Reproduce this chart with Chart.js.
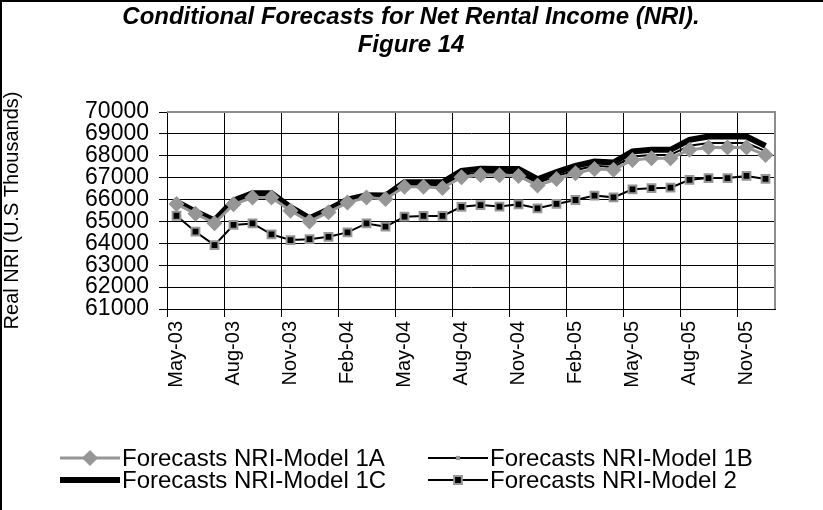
<!DOCTYPE html>
<html><head><meta charset="utf-8">
<script src="https://cdn.jsdelivr.net/npm/chart.js@4.4.1/dist/chart.umd.min.js"></script>
<style>
html,body{margin:0;padding:0;background:#fff;}
#wrap{width:823px;height:510px;}
</style></head>
<body><div id="wrap"><canvas id="c" width="823" height="510"></canvas></div>
<script>
const titleLines = ["Conditional Forecasts for Net Rental Income (NRI).", "Figure 14"];
const yAxisTitle = "Real NRI (U.S Thousands)";
const months = ["May-03","Jun-03","Jul-03","Aug-03","Sep-03","Oct-03","Nov-03","Dec-03",
  "Jan-04","Feb-04","Mar-04","Apr-04","May-04","Jun-04","Jul-04","Aug-04","Sep-04","Oct-04","Nov-04","Dec-04",
  "Jan-05","Feb-05","Mar-05","Apr-05","May-05","Jun-05","Jul-05","Aug-05","Sep-05","Oct-05","Nov-05","Dec-05"];
const seriesNames = ["Forecasts NRI-Model 1A","Forecasts NRI-Model 1B","Forecasts NRI-Model 1C","Forecasts NRI-Model 2"];
const model1A = [65800,65350,64920,65780,66090,66090,65490,65000,65420,65860,66090,66030,66590,66590,66530,67020,
  67120,67110,67080,66640,66940,67200,67400,67360,67810,67890,67890,68270,68380,68380,68380,68040];
const model1B = [65840,65390,64970,65850,66170,66170,65550,65060,65470,65910,66130,66090,66670,66670,66640,67140,
  67240,67230,67210,66760,67070,67340,67540,67490,67970,68040,68040,68460,68580,68580,68580,68210];
const model1C = [65900,65450,65050,65950,66290,66290,65650,65150,65550,66000,66200,66180,66790,66790,66790,67310,
  67410,67400,67400,66930,67250,67540,67740,67690,68200,68270,68270,68730,68880,68880,68880,68450];
const model2 = [65260,64530,63920,64840,64910,64410,64150,64190,64300,64500,64910,64760,65220,65250,65250,65670,
  65750,65680,65780,65600,65800,65980,66180,66100,66470,66520,66540,66900,66980,66980,67080,66940];
const yMin = 61000, yMax = 70000, yStep = 1000;

const FONT = "'Liberation Sans', Arial, sans-serif";
const GRAY = '#969696';

const decor = {
  id: 'decor',
  beforeDatasetsDraw(chart) {
    const {ctx, chartArea: a} = chart;
    ctx.save();
    ctx.strokeStyle = '#8c8c8c';
    ctx.lineWidth = 2;
    ctx.beginPath();
    ctx.moveTo(a.left, a.top);
    ctx.lineTo(a.right, a.top);
    ctx.lineTo(a.right, a.bottom);
    ctx.stroke();
    ctx.restore();
  },
  afterDraw(chart) {
    const ctx = chart.ctx;
    ctx.save();
    ctx.strokeStyle = '#000';
    ctx.lineWidth = 2;
    ctx.beginPath();
    ctx.moveTo(823, 1);
    ctx.lineTo(1, 1);
    ctx.lineTo(1, 510);
    ctx.stroke();
    ctx.fillStyle = '#000';
    ctx.textAlign = 'center';
    ctx.textBaseline = 'middle';
    ctx.font = "italic bold 24px " + FONT;
    ctx.fillText(titleLines[0], 411, 17);
    ctx.fillText(titleLines[1], 411, 45);
    const cols = [60, 428];
    const rows = [458, 480];
    const sampleW = 60;
    ctx.font = "24px " + FONT;
    ctx.textAlign = 'left';
    chart.data.datasets.forEach((ds, i) => {
      const x = cols[i % 2], y = rows[Math.floor(i / 2)];
      ctx.strokeStyle = ds.borderColor;
      ctx.lineWidth = ds.borderWidth;
      ctx.beginPath();
      ctx.moveTo(x, y);
      ctx.lineTo(x + sampleW, y);
      ctx.stroke();
      if (ds.pointRadius > 0) {
        ctx.fillStyle = ds.pointBackgroundColor;
        ctx.strokeStyle = ds.pointBorderColor;
        ctx.lineWidth = ds.pointBorderWidth;
        Chart.helpers.drawPoint(ctx, {pointStyle: ds.pointStyle, radius: ds.pointRadius, rotation: 0, borderWidth: ds.pointBorderWidth}, x + sampleW / 2, y);
      }
      ctx.fillStyle = '#000';
      ctx.fillText(ds.label, x + sampleW + 2, y + 1);
    });
    ctx.restore();
  }
};

new Chart(document.getElementById('c'), {
  type: 'line',
  data: {
    labels: months,
    datasets: [
      {label: seriesNames[0], data: model1A, borderColor: GRAY, borderWidth: 3, pointStyle: 'rectRot', pointRadius: 8,
       pointBackgroundColor: GRAY, pointBorderColor: GRAY, pointBorderWidth: 0, tension: 0},
      {label: seriesNames[1], data: model1B, borderColor: '#000', borderWidth: 2, pointStyle: 'rect', pointRadius: 3,
       pointBackgroundColor: GRAY, pointBorderColor: GRAY, pointBorderWidth: 0, tension: 0},
      {label: seriesNames[2], data: model1C, borderColor: '#000', borderWidth: 6, pointRadius: 0, tension: 0},
      {label: seriesNames[3], data: model2, borderColor: '#000', borderWidth: 2, pointStyle: 'rect', pointRadius: 5.5,
       pointBackgroundColor: '#000', pointBorderColor: GRAY, pointBorderWidth: 2, tension: 0}
    ]
  },
  options: {
    responsive: false,
    animation: false,
    devicePixelRatio: 1,
    layout: {padding: {top: 112, right: 48, left: 0, bottom: 0}},
    plugins: {legend: {display: false}, title: {display: false}, tooltip: {enabled: false}},
    scales: {
      x: {
        type: 'category', offset: true,
        grid: {offset: true, color: c => (c.index % 3 === 0 ? '#000' : 'rgba(0,0,0,0)'), lineWidth: 1, drawTicks: true, tickLength: 8},
        border: {color: '#000', width: 1},
        ticks: {autoSkip: false, maxRotation: 90, minRotation: 90, padding: 4, color: '#000',
                font: {family: FONT, size: 20}, callback: (v, i) => (i % 3 === 0 ? months[i] : '')},
        afterFit: s => { s.height = 201; }
      },
      y: {
        min: yMin, max: yMax,
        ticks: {stepSize: yStep, autoSkip: false, color: '#000', font: {family: FONT, size: 23}, padding: 10,
                callback: v => String(v)},
        grid: {color: '#000', lineWidth: 1, tickLength: 8},
        border: {color: '#000', width: 1},
        title: {display: true, text: yAxisTitle, color: '#000', font: {family: FONT, size: 20}, padding: {top: 0, bottom: 0}},
        afterFit: s => { s.width = 167; }
      }
    }
  },
  plugins: [decor]
});
</script>
</body></html>
